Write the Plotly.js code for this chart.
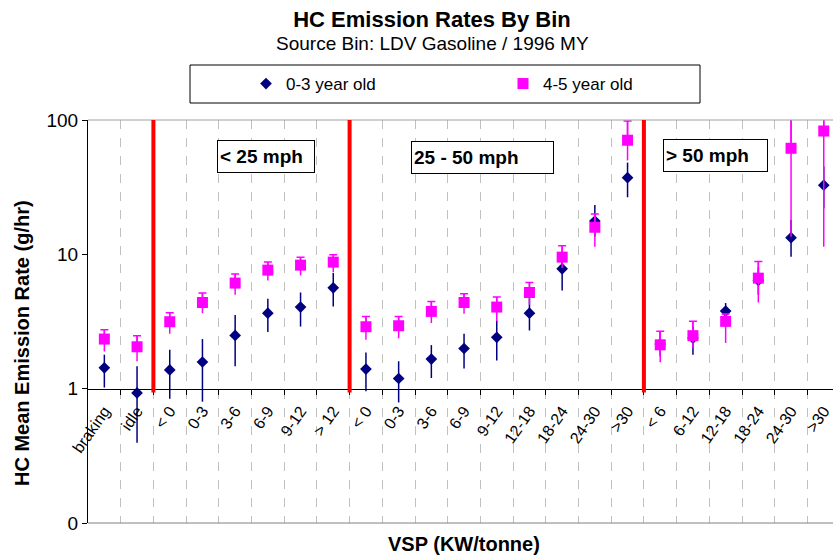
<!DOCTYPE html>
<html><head><meta charset="utf-8">
<script src="https://cdn.plot.ly/plotly-3.0.1.min.js"></script>
<style>html,body{margin:0;padding:0;background:#fff}#chart{width:833px;height:559px}</style>
</head><body><div id="chart"></div>
<script>
// ---- data ----
const categories = ['braking','idle','< 0','0-3','3-6','6-9','9-12','> 12',
  '< 0','0-3','3-6','6-9','9-12','12-18','18-24','24-30','>30',
  '< 6','6-12','12-18','18-24','24-30','>30'];
const seriesNames = ['0-3 year old','4-5 year old'];
const young     = [1.43,0.93,1.38,1.58,2.49,3.65,4.05,5.63, 1.40,1.19,1.66,1.99,2.41,3.65,7.8,17.7,37.2, 2.15,2.38,3.78,6.4,13.3,32.7];
const youngHigh = [1.79,1.47,1.95,2.34,3.53,4.67,5.2,7.25, 1.86,1.6,2.11,2.56,3.22,4.72,10.2,23.3,48.2, 2.67,2.9,4.34,8.0,18,45];
const youngLow  = [1.02,0.395,0.84,0.80,1.47,2.64,2.9,4.09, 0.955,0.79,1.2,1.41,1.62,2.71,5.38,13.6,26.6, 1.74,1.79,3.3,5.0,9.6,22];
const old       = [2.34,2.05,3.15,4.38,6.11,7.63,8.31,8.75, 2.89,2.94,3.76,4.38,4.05,5.2,9.53,15.9,70.7, 2.12,2.48,3.17,6.65,61.6,82.8];
const oldHigh   = [2.75,2.48,3.67,5.15,7.13,8.75,9.53,9.91, 3.45,3.45,4.46,5.08,4.81,6.17,11.57,20,98.3, 2.67,3.17,3.6,8.84,200,200];
const oldLow    = [1.89,1.6,2.56,3.65,5.0,6.38,6.96,7.37, 2.31,2.37,3.08,3.61,3.17,4.21,7.9,11.4,50, 1.57,2.0,2.19,4.38,13.5,11.4];
const yTickVals = [0.1,1,10,100];
const yTickText = ['0','1','10','100'];
const groupLabels = ['< 25 mph','25 - 50 mph','> 50 mph'];
const groupStarts = [2,8,17];

// ---- helpers ----
const FONT = '"Liberation Sans", Arial, sans-serif';
const L = 88, T = 120, PW = 745, PH = 403;
const px = x => (x - L) / PW;
const py = y => (T + PH - y) / PH;
const idx = categories.map((c, i) => i);
const bounds = categories.slice(0, -1).map((c, i) => i + 0.5);
const up = (v, h) => v.map((x, i) => h[i] - x);
const dn = (v, l) => v.map((x, i) => x - l[i]);
const zeros = v => v.map(() => 0);
const NAVY = '#000080', MAG = '#FF00FF';
const xRange = [-0.5, -0.5 + PW / 32.7];

const traces = [
  {x: idx, y: young, name: seriesNames[0], type: 'scatter', mode: 'markers',
   marker: {symbol: 'diamond', size: 9, color: NAVY},
   error_y: {type: 'data', symmetric: false, array: up(young, youngHigh), arrayminus: dn(young, youngLow),
             color: NAVY, thickness: 1.5, width: 0}},
  {x: idx, y: old, name: seriesNames[1], type: 'scatter', mode: 'markers',
   marker: {symbol: 'square', size: 11, color: MAG},
   error_y: {type: 'data', symmetric: false, array: up(old, oldHigh), arrayminus: dn(old, oldLow),
             color: MAG, thickness: 1.5, width: 0}},
  {x: idx, y: old, type: 'scatter', mode: 'markers', showlegend: false, hoverinfo: 'skip',
   marker: {symbol: 'square', size: 11, color: MAG, opacity: 0},
   error_y: {type: 'data', symmetric: false, array: up(old, oldHigh), arrayminus: zeros(old),
             color: MAG, thickness: 1.5, width: 4}},
  {x: [], y: [], xaxis: 'x2', yaxis: 'y', showlegend: false, hoverinfo: 'skip', type: 'scatter'}
];

const shapes = [
  {type: 'line', xref: 'paper', yref: 'paper', x0: 0, x1: 1, y0: 1, y1: 1, line: {color: '#a0a0a0', width: 1}},
  {type: 'line', xref: 'paper', yref: 'paper', x0: 0, x1: 1, y0: 0, y1: 0, line: {color: '#808080', width: 1}},
  {type: 'rect', xref: 'paper', yref: 'paper', x0: px(190), x1: px(700), y0: py(103), y1: py(65),
   line: {color: '#000', width: 1}, fillcolor: 'rgba(0,0,0,0)'}
].concat(groupStarts.map(s => ({type: 'line', xref: 'x', yref: 'y', x0: s - 0.5, x1: s - 0.5,
   y0: 0.935, y1: 100, line: {color: '#FF0000', width: 4}})));

const boxes = [[266, 156.5, 92], [482.5, 157, 137], [715.5, 156, 99]];
const annotations = groupLabels.map((g, i) => ({
  xref: 'paper', yref: 'paper', x: px(boxes[i][0]), y: py(boxes[i][1]), xanchor: 'center', yanchor: 'middle',
  text: g, showarrow: false, align: 'left', width: boxes[i][2], height: 27,
  bordercolor: '#000', borderwidth: 1, borderpad: 2, bgcolor: '#fff',
  font: {family: FONT, size: 19, color: '#000', weight: 'bold'}
})).concat([
  {xref: 'paper', yref: 'paper', x: px(432), y: py(43.5), xanchor: 'center', yanchor: 'middle', showarrow: false,
   text: 'Source Bin: LDV Gasoline / 1996 MY', font: {family: FONT, size: 19, color: '#000'}},
  {xref: 'paper', yref: 'paper', x: px(22), y: py(343), xanchor: 'center', yanchor: 'middle', showarrow: false,
   textangle: -90, text: 'HC Mean Emission Rate (g/hr)', font: {family: FONT, size: 20, color: '#000', weight: 'bold'}},
  {xref: 'paper', yref: 'paper', x: px(464), y: py(544), xanchor: 'center', yanchor: 'middle', showarrow: false,
   text: 'VSP (KW/tonne)', font: {family: FONT, size: 20, color: '#000', weight: 'bold'}}
]);

const layout = {
  width: 833, height: 559,
  margin: {l: L, r: 0, t: T, b: 559 - T - PH, autoexpand: false},
  paper_bgcolor: '#fff', plot_bgcolor: '#fff',
  font: {family: FONT, color: '#000'},
  title: {text: 'HC Emission Rates By Bin', font: {family: FONT, size: 22, weight: 'bold', color: '#000'},
          xref: 'container', x: 432 / 833, xanchor: 'center', yref: 'container', y: 1 - 19 / 559, yanchor: 'middle'},
  showlegend: true,
  legend: {orientation: 'h', x: px(246), xanchor: 'left', y: py(84), yanchor: 'middle',
           font: {family: FONT, size: 17, color: '#000'}, bgcolor: 'rgba(0,0,0,0)', borderwidth: 0,
           entrywidth: 212, entrywidthmode: 'pixels'},
  xaxis: {range: xRange, tickmode: 'array', tickvals: idx, ticktext: categories, tickangle: -55,
          anchor: 'free', position: 1 / 3, showgrid: false, zeroline: false, showline: false, ticks: '',
          ticklabelstandoff: 9, tickfont: {family: FONT, size: 16, color: '#000'}},
  xaxis2: {range: xRange, overlaying: 'x', anchor: 'free', position: 1 / 3, side: 'bottom',
           tickmode: 'array', tickvals: bounds, showticklabels: false, ticks: 'outside', ticklen: 5,
           tickcolor: '#000', showline: true, linecolor: '#000', linewidth: 1,
           showgrid: true, gridcolor: '#c0c0c0', griddash: 'dash', gridwidth: 1, zeroline: false},
  yaxis: {type: 'log', range: [-1, 2], tickmode: 'array', tickvals: yTickVals, ticktext: yTickText,
          ticks: 'outside', ticklen: 5, tickcolor: '#000', showline: true, linecolor: '#000', linewidth: 1,
          showgrid: false, zeroline: false, tickfont: {family: FONT, size: 19, color: '#000'}},
  shapes: shapes,
  annotations: annotations
};

Plotly.newPlot('chart', traces, layout, {displayModeBar: false, staticPlot: true});
</script></body></html>
